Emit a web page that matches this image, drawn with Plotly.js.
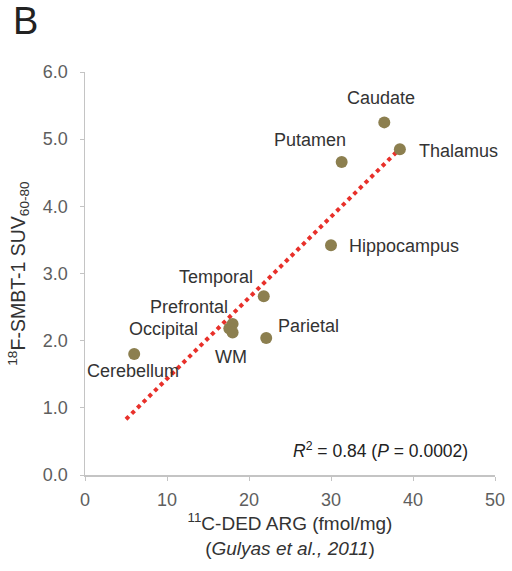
<!DOCTYPE html>
<html>
<head>
<meta charset="utf-8">
<script src="https://cdn.plot.ly/plotly-3.0.1.min.js"></script>
<style>html,body{margin:0;padding:0;background:#fff;}#chart{width:512px;height:571px;}</style>
</head>
<body>
<div id="chart"></div>
<script>
// Data
const regions = ["Caudate","Thalamus","Putamen","Hippocampus","Temporal","Parietal","Prefrontal","Occipital","WM","Cerebellum"];
const dedArg  = [36.5, 38.4, 31.3, 30.0, 21.8, 22.1, 18.0, 17.6, 18.0, 6.0];
const smbtSuv = [5.25, 4.85, 4.66, 3.42, 2.66, 2.04, 2.25, 2.18, 2.12, 1.80];
const trendX = [5.0, 39.0];
const trendY = [0.83, 4.93];
const xTicks = [0, 10, 20, 30, 40, 50];
const yTicks = [0.0, 1.0, 2.0, 3.0, 4.0, 5.0, 6.0];
const statText = "<i>R</i><sup>2</sup> = 0.84 (<i>P</i> = 0.0002)";

// Label placement (styling, not data)
const labelPlace = {
  "Caudate":     {xanchor:"center", xs:-3,  ys:24},
  "Thalamus":    {xanchor:"left",   xs:17,  ys:-2},
  "Putamen":     {xanchor:"center", xs:-32, ys:22},
  "Hippocampus": {xanchor:"left",   xs:16,  ys:-1},
  "Temporal":    {xanchor:"center", xs:-48, ys:19},
  "Parietal":    {xanchor:"left",   xs:10,  ys:12},
  "Prefrontal":  {xanchor:"center", xs:-44, ys:17},
  "Occipital":   {xanchor:"right",  xs:-29, ys:0},
  "WM":          {xanchor:"center", xs:-2,  ys:-24},
  "Cerebellum":  {xanchor:"center", xs:-1,  ys:-17}
};

const fontFam = "Liberation Sans, Arial, sans-serif";
const txtCol = "#333333";

const traces = [
  {
    x: trendX, y: trendY, mode: "lines", type: "scatter",
    line: {color: "#e8302a", width: 4, dash: "dot"},
    hoverinfo: "skip", showlegend: false
  },
  {
    x: dedArg, y: smbtSuv, mode: "markers", type: "scatter",
    marker: {color: "#8c7f4f", size: 12, line: {width: 0}},
    text: regions, showlegend: false
  }
];

const annotations = regions.map((r, i) => {
  const p = labelPlace[r];
  return {
    x: dedArg[i], y: smbtSuv[i], xref: "x", yref: "y", text: r,
    showarrow: false, xanchor: p.xanchor, yanchor: "middle",
    xshift: p.xs, yshift: p.ys,
    font: {family: fontFam, size: 18, color: txtCol}
  };
});
annotations.push({
  x: 47, y: 0.37, xref: "x", yref: "y", text: statText, showarrow: false,
  xanchor: "right", yanchor: "middle",
  font: {family: fontFam, size: 17.5, color: "#222"}
});
annotations.push({
  x: (11 - 85) / 410, y: 1 + (72 + 2) / 403, xref: "paper", yref: "paper",
  text: "B", showarrow: false, xanchor: "left", yanchor: "top",
  font: {family: fontFam, size: 38, color: "#222"}
});

const layout = {
  width: 512, height: 571,
  margin: {l: 85, r: 17, t: 72, b: 96},
  paper_bgcolor: "#fff", plot_bgcolor: "#fff",
  font: {family: fontFam, color: txtCol},
  xaxis: {
    range: [0, 50], tickvals: xTicks, ticktext: xTicks.map(String),
    showgrid: false, zeroline: false, showline: true, linecolor: "#c4c4c4", linewidth: 1.5,
    ticks: "outside", ticklen: 4, tickcolor: "#c4c4c4",
    ticklabelstandoff: 4,
    tickfont: {family: fontFam, size: 18, color: "#5e5e5e"},
    title: {text: "<sup>11</sup>C-DED ARG (fmol/mg)<br>(<i>Gulyas et al., 2011</i>)",
            font: {family: fontFam, size: 19, color: txtCol}, standoff: 5}
  },
  yaxis: {
    range: [0, 6], tickvals: yTicks, ticktext: yTicks.map(v => v.toFixed(1)),
    showgrid: false, zeroline: false, showline: true, linecolor: "#c4c4c4", linewidth: 1.5,
    ticks: "outside", ticklen: 4, tickcolor: "#c4c4c4",
    ticklabelstandoff: 8,
    tickfont: {family: fontFam, size: 18, color: "#5e5e5e"},
    title: {text: "<sup>18</sup>F-SMBT-1 SUV<sub>60-80</sub>",
            font: {family: fontFam, size: 19.5, color: txtCol}, standoff: 12}
  },
  annotations: annotations,
  showlegend: false
};

Plotly.newPlot("chart", traces, layout, {displayModeBar: false, staticPlot: true});
</script>
</body>
</html>
